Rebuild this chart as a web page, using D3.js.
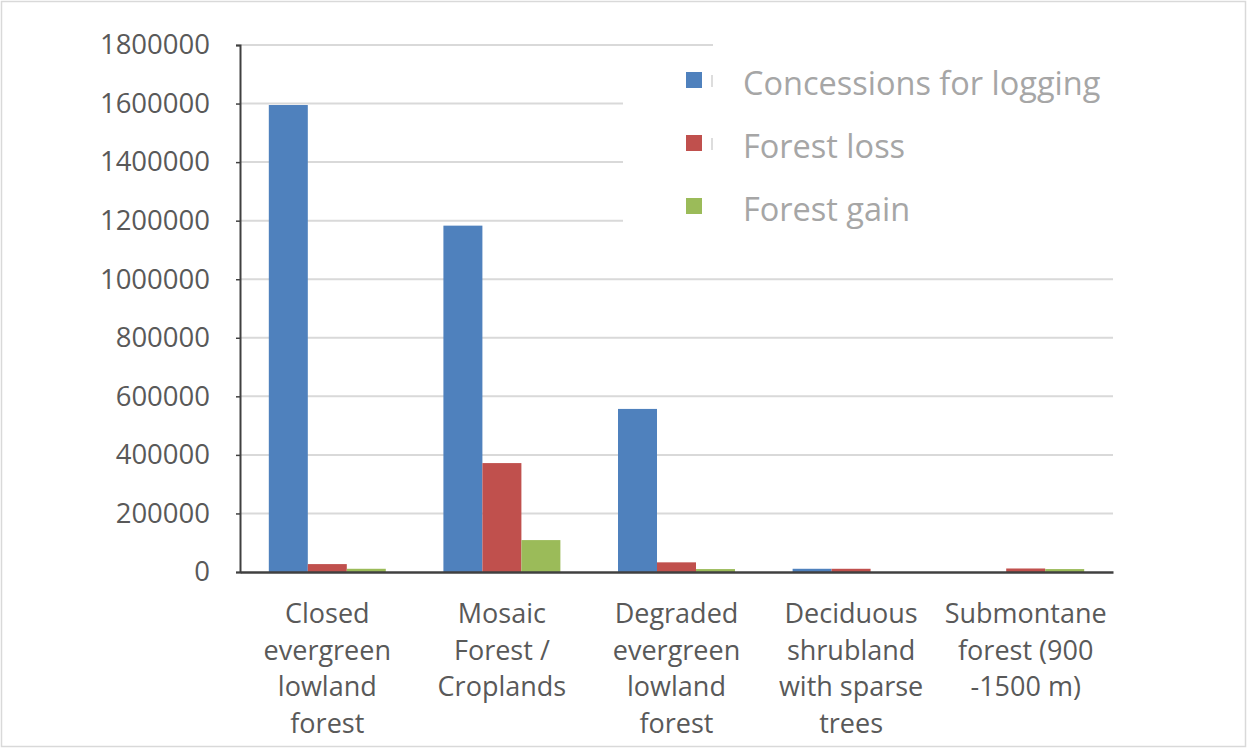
<!DOCTYPE html>
<html><head><meta charset="utf-8">
<script src="https://cdn.jsdelivr.net/npm/d3@7"></script>
<style>
html,body{margin:0;padding:0;background:#fff;}
svg{display:block;font-family:"Open Sans",sans-serif;}
</style></head>
<body><svg id="chart" width="1247" height="748"></svg>
<script>
const categories = [
  ["Closed","evergreen","lowland","forest"],
  ["Mosaic","Forest /","Croplands"],
  ["Degraded","evergreen","lowland","forest"],
  ["Deciduous","shrubland","with sparse","trees"],
  ["Submontane","forest (900","-1500 m)"]
];
const seriesNames = ["Concessions for logging","Forest loss","Forest gain"];
const concessions = [1595000, 1183000, 557000, 11000, 0];
const forestLoss  = [27000, 372000, 33000, 11000, 12000];
const forestGain  = [11000, 109000, 10000, 0, 10000];
const yTicks = [0,200000,400000,600000,800000,1000000,1200000,1400000,1600000,1800000];
const colors = ["#4F81BD","#C0504D","#9BBB59"];

(function(){
const svg = d3.select("#chart");
const mLeft = 240, mRight = 1113, mTop = 45, mBottom = 572;
const catIdx = categories.map((c,i)=>i);
const values = [concessions, forestLoss, forestGain];

const x0 = d3.scaleBand().domain(catIdx).range([mLeft,mRight]).padding(0);
const bw = x0.bandwidth();
const x1 = d3.scaleBand().domain([0,1,2]).range([bw*0.165, bw*0.835]).padding(0);
const y = d3.scaleLinear().domain([0,1800000]).range([mBottom, mTop]);

// frame
svg.append("rect").attr("x",1.5).attr("y",1.5).attr("width",1244).attr("height",745)
  .attr("fill","none").attr("stroke","#d9d9d9").attr("stroke-width",1.5);

// gridlines
svg.append("g").selectAll("line").data(yTicks.filter(d=>d>0)).join("line")
  .attr("x1",mLeft).attr("x2",mRight).attr("y1",d=>y(d)).attr("y2",d=>y(d))
  .attr("stroke","#d9d9d9").attr("stroke-width",2);

// legend background occluding gridlines
svg.append("rect").attr("x",623).attr("y",56).attr("width",mRight-623+4).attr("height",190).attr("fill","#fff");
svg.append("rect").attr("x",713).attr("y",38).attr("width",mRight-713+4).attr("height",20).attr("fill","#fff");

// bars
const g = svg.append("g");
catIdx.forEach(ci=>{
  values.forEach((arr,si)=>{
    const v = arr[ci];
    if (v<=0) return;
    g.append("rect")
      .attr("x", x0(ci)+x1(si)).attr("width", x1.bandwidth())
      .attr("y", y(v)).attr("height", y(0)-y(v))
      .attr("fill", colors[si]);
  });
});

// y axis
const yAxis = d3.axisLeft(y).tickValues(yTicks).tickSize(4).tickFormat(d3.format("d"));
const ya = svg.append("g").attr("transform",`translate(${mLeft},0)`).call(yAxis);
ya.select(".domain").attr("stroke","#404040").attr("stroke-width",2);
ya.selectAll(".tick line").attr("stroke","#404040").attr("stroke-width",1.5);
ya.selectAll(".tick text").attr("x",-30).attr("fill","#595959")
  .style("font-size","27.5px").style("font-family","'Open Sans',sans-serif");

// x axis
const xa = svg.append("g").attr("transform",`translate(0,${mBottom})`)
  .call(d3.axisBottom(x0).tickSize(0).tickFormat(""));
xa.select(".domain").attr("stroke","#404040").attr("stroke-width",2.5);

// category labels
const lab = svg.append("g");
categories.forEach((lines,ci)=>{
  const t = lab.append("text").attr("x", x0(ci)+bw/2).attr("text-anchor","middle")
    .attr("fill","#595959").style("font-size","27px");
  lines.forEach((ln,li)=>{
    t.append("tspan").attr("x", x0(ci)+bw/2).attr("y", 623 + li*36.7).text(ln);
  });
});

// legend
const leg = svg.append("g");
seriesNames.forEach((n,i)=>{
  const cy = 80 + i*63;
  leg.append("rect").attr("x",686).attr("y",cy-8).attr("width",16).attr("height",16).attr("fill",colors[i]);
  if (i<2) leg.append("line").attr("x1",712).attr("x2",712).attr("y1",cy-5).attr("y2",cy+7)
      .attr("stroke","#bbb").attr("stroke-width",1);
  leg.append("text").attr("x",743).attr("y",cy+15).attr("fill","#a6a6a6")
    .style("font-size","32.5px").text(n);
});
})();
</script></body></html>
